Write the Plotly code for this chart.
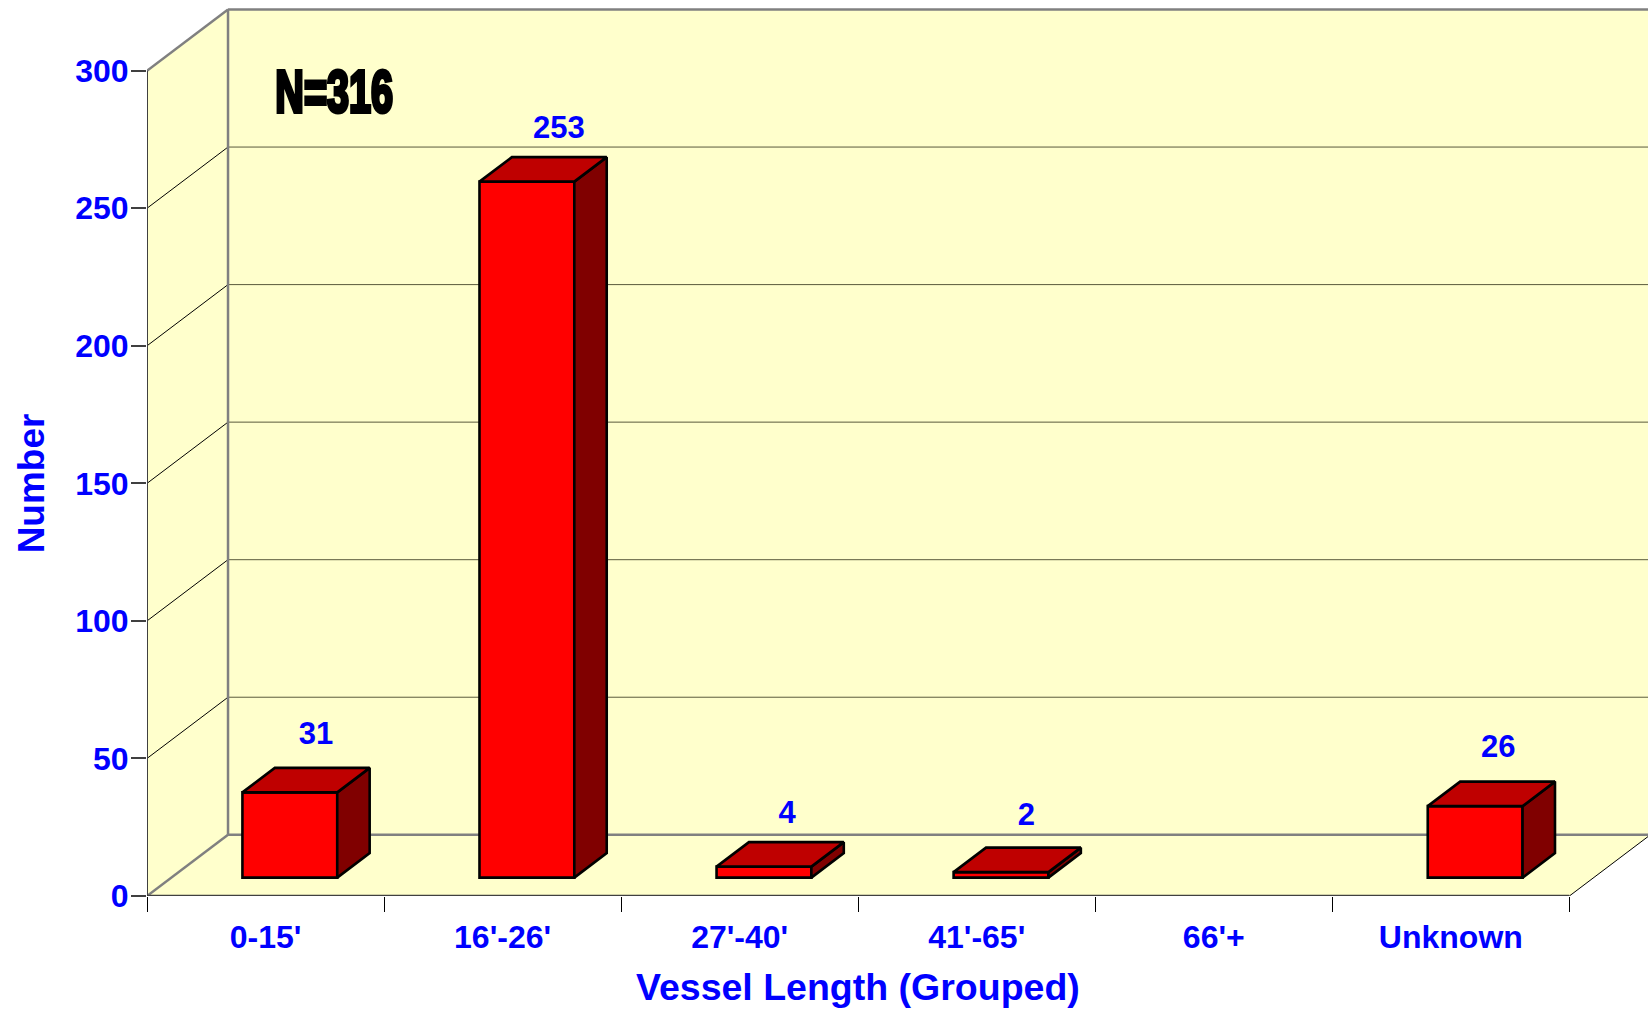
import plotly.graph_objects as go

categories = ["0-15'", "16'-26'", "27'-40'", "41'-65'", "66'+", "Unknown"]
values = [31, 253, 4, 2, 0, 26]
y_ticks = [0, 50, 100, 150, 200, 250, 300]
x_title = "Vessel Length (Grouped)"
y_title = "Number"
note = "N=316"

W, H = 1648, 1012
LEFT, BOTTOM_Y = 147.4, 895.7
UX = 237.0     # px per category
UY = 2.75      # px per count
DX = 81.0 / UX   # depth offset of the chart box, in x units
DY = 61.2 / UY   # depth offset of the chart box, in y units
n = len(categories)
ymax = y_ticks[-1]

BLUE = "#0000FF"
FONT = "Liberation Sans"
WALL = "#FFFFCC"
GREY = "#808080"

fig = go.Figure()
shapes = []


def poly(pts):
    return "M" + "L".join(f"{x},{y}" for x, y in pts) + "Z"


# walls
for pts in (
    [(0, 0), (n, 0), (n + DX, DY), (DX, DY)],
    [(0, 0), (DX, DY), (DX, ymax + DY), (0, ymax)],
    [(DX, DY), (n + DX, DY), (n + DX, ymax + DY), (DX, ymax + DY)],
):
    shapes.append(dict(type="path", path=poly(pts), xref="x", yref="y", layer="below",
                       fillcolor=WALL, line=dict(width=0)))


def seg(x0, y0, x1, y1, color, width):
    shapes.append(dict(type="line", x0=x0, y0=y0, x1=x1, y1=y1, xref="x", yref="y",
                       layer="below", line=dict(color=color, width=width)))


for t in y_ticks[1:-1]:
    seg(DX, t + DY, n + DX, t + DY, "#5A5A3C", 1)
    seg(0, t, DX, t + DY, "#000000", 1)
seg(DX, DY, n + DX, DY, GREY, 2.5)
seg(DX, DY, DX, ymax + DY, GREY, 2.5)
seg(DX, ymax + DY, n + DX, ymax + DY, GREY, 2.5)
seg(0, ymax, DX, ymax + DY, GREY, 2.5)
seg(0, 0, DX, DY, GREY, 2.5)
seg(n, 0, n + DX, DY, "#000000", 1)

# front faces of bars
idx = [i for i, v in enumerate(values) if v > 0]
BW = 0.4
fx0 = 0.3
base = fx0 * DY
bar_d_x = BW * DX
bar_d_y = BW * DY
OUTLINE = 2.6
fig.add_trace(go.Bar(
    x=[i + 0.5 + fx0 * DX for i in idx],
    y=[values[i] for i in idx],
    base=base,
    width=BW,
    marker=dict(color="#FF0000", line=dict(color="#000000", width=OUTLINE)),
    hoverinfo="skip",
))

top_x, top_y, side_x, side_y = [], [], [], []
for i in idx:
    v = values[i]
    l = i + 0.5 - BW / 2 + fx0 * DX
    r = l + BW
    top_x += [l, r, r + bar_d_x, l + bar_d_x, l, None]
    top_y += [base + v, base + v, base + v + bar_d_y, base + v + bar_d_y, base + v, None]
    side_x += [r, r + bar_d_x, r + bar_d_x, r, r, None]
    side_y += [base, base + bar_d_y, base + v + bar_d_y, base + v, base, None]

for xs, ys, col in ((side_x, side_y, "#800000"), (top_x, top_y, "#BF0000")):
    fig.add_trace(go.Scatter(x=xs, y=ys, mode="lines", fill="toself", fillcolor=col,
                             line=dict(color="#000000", width=OUTLINE), hoverinfo="skip",
                             cliponaxis=False))

# front axis lines
fig.add_trace(go.Scatter(x=[0, 0], y=[0, ymax], mode="lines", cliponaxis=False,
                         line=dict(color="#404040", width=2), hoverinfo="skip"))
fig.add_trace(go.Scatter(x=[0, n], y=[0, 0], mode="lines", cliponaxis=False,
                         line=dict(color="#404040", width=2.5), hoverinfo="skip"))

# value labels, with small placement corrections in axis units
nudge_x = {0: 0.013, 1: 0.037, 3: 0.009}
nudge_y = {0: 0.4, 1: -1.15, 2: -1.15, 5: 0.76}
fig.add_trace(go.Scatter(
    x=[i + 0.5 + 0.2 + nudge_x.get(i, 0) for i in idx],
    y=[values[i] + base + 20 + nudge_y.get(i, 0) for i in idx],
    text=[str(values[i]) for i in idx],
    mode="text", textposition="middle center",
    textfont=dict(family=FONT, size=31, color=BLUE, weight=700),
    hoverinfo="skip", cliponaxis=False,
))

fig.update_layout(
    width=W, height=H,
    autosize=False,
    margin=dict(l=LEFT, r=0, t=0, b=H - BOTTOM_Y, pad=0),
    paper_bgcolor="#FFFFFF", plot_bgcolor="#FFFFFF",
    showlegend=False,
    shapes=shapes,
    xaxis=dict(
        range=[0, (W - LEFT) / UX],
        tickmode="array",
        tickvals=[i + 0.5 for i in range(n)],
        ticktext=categories,
        ticks="outside", ticklen=13, tickcolor="rgba(0,0,0,0)", tickwidth=1,
        minor=dict(tickmode="array", tickvals=list(range(n + 1)), ticks="outside",
                   ticklen=15, tickwidth=1, tickcolor="#000000", showgrid=False),
        tickfont=dict(family=FONT, size=32, color=BLUE, weight=700),
        showgrid=False, zeroline=False, showline=False,
    ),
    yaxis=dict(
        range=[0, BOTTOM_Y / UY],
        tickmode="array",
        tickvals=y_ticks,
        ticks="outside", ticklen=15, tickwidth=1.5, tickcolor="#404040",
        ticklabelstandoff=-4,
        tickfont=dict(family=FONT, size=32, color=BLUE, weight=700),
        showgrid=False, zeroline=False, showline=False,
    ),
    annotations=[
        dict(text=x_title, x=n / 2, xref="x", y=0, yref="y", yshift=-91, yanchor="middle",
             showarrow=False, font=dict(family=FONT, size=37.5, color=BLUE, weight=700)),
        dict(text=y_title, x=0, xref="x", xshift=-116, y=ymax / 2, yref="y", textangle=-90,
             showarrow=False, font=dict(family=FONT, size=37, color=BLUE, weight=700)),
        dict(text=note, x=0.789, xref="x", y=292.6, yref="y", showarrow=False,
             font=dict(family=FONT, size=60, color="#000000", weight=700)),
    ],
)

post = """
document.body.style.margin = '0';
var gd = document.getElementsByClassName('plotly-graph-div')[0];
gd.querySelectorAll('text').forEach(function (t) {
  if (t.textContent === 'N=316') {
    var b = t.getBBox();
    var cx = b.x + b.width / 2, cy = b.y + b.height / 2;
    t.setAttribute('transform', 'translate(' + cx + ',' + cy + ') scale(0.66,1) translate(' + (-cx) + ',' + (-cy) + ')');
    t.style.stroke = '#000';
    t.style.strokeWidth = '4px';
  }
});
"""
fig.write_html("out.html", post_script=post, config=dict(displayModeBar=False))
